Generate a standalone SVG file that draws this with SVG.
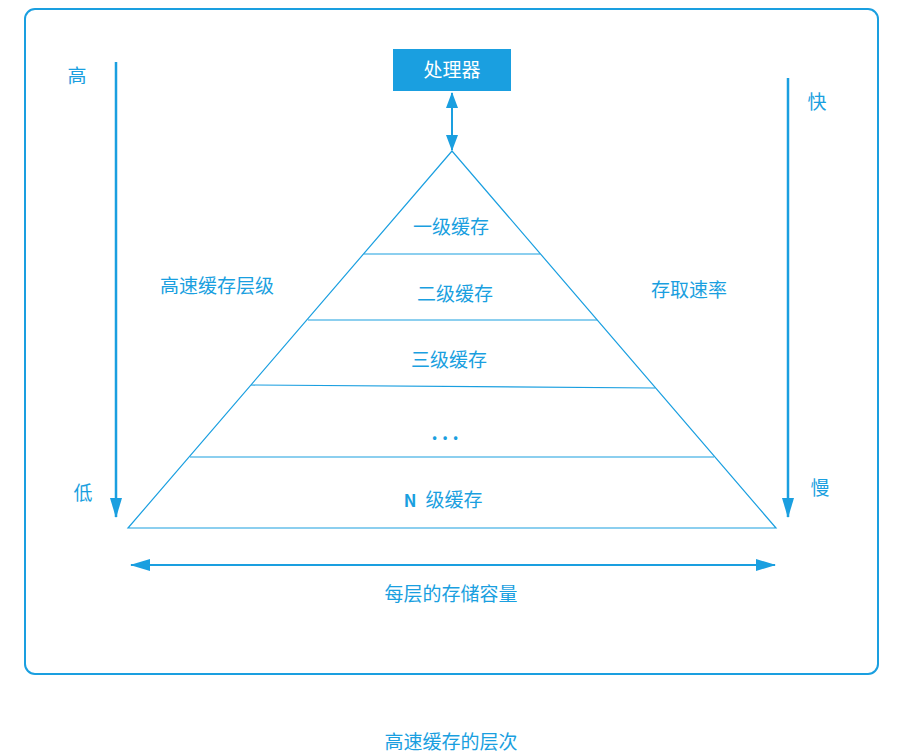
<svg xmlns="http://www.w3.org/2000/svg" width="905" height="754" viewBox="0 0 905 754">
  <style>
    .ln { stroke: #1a9fe0; fill: none; }
    .lbl { font-family: "Noto Sans CJK SC", "Liberation Sans", sans-serif; font-size: 19px; fill: #1a9fe0; text-anchor: middle; dominant-baseline: central; }
    .proc { font-family: "Noto Sans CJK SC", "Liberation Sans", sans-serif; font-size: 19px; fill: #ffffff; text-anchor: middle; dominant-baseline: central; }
    .small { font-size: 17px; font-weight: bold; }
  </style>
  <defs>
    <marker id="ah" viewBox="0 0 16 12" refX="15" refY="6" markerWidth="16" markerHeight="12" markerUnits="userSpaceOnUse" orient="auto-start-reverse">
      <path d="M0,0 L16,6 L0,12 Z" fill="#1a9fe0"/>
    </marker>
    <marker id="ahs" viewBox="0 0 20 12" refX="19" refY="6" markerWidth="20" markerHeight="12" markerUnits="userSpaceOnUse" orient="auto-start-reverse">
      <path d="M0,0 L20,6 L0,12 Z" fill="#1a9fe0"/>
    </marker>
  </defs>
  <rect width="905" height="754" fill="#ffffff"/>

  <!-- frame -->
  <rect x="25" y="9" width="853" height="665" rx="10" ry="10" class="ln" stroke-width="2"/>

  <!-- processor -->
  <g id="processor">
    <rect x="393" y="49" width="118" height="42" fill="#1a9fe0"/>
    <text x="452" y="68.5" class="proc">处理器</text>
  </g>

  <!-- pyramid of cache levels -->
  <g id="pyramid">
    <path d="M452,151 L128,528 L776,528 Z" class="ln" stroke-width="1.2"/>
    <line x1="364" y1="254" x2="540" y2="254" class="ln" stroke-width="1.2"/>
    <line x1="308" y1="320" x2="597" y2="320" class="ln" stroke-width="1.2"/>
    <line x1="251" y1="385" x2="655" y2="388" class="ln" stroke-width="1.2"/>
    <line x1="190" y1="457" x2="714" y2="457" class="ln" stroke-width="1.2"/>
  </g>
  <g id="l1"><text x="451" y="225" class="lbl">一级缓存</text></g>
  <g id="l2"><text x="455" y="292" class="lbl">二级缓存</text></g>
  <g id="l3"><text x="449" y="358" class="lbl">三级缓存</text></g>
  <g id="ln-dots"><text x="445" y="431" class="lbl" font-weight="bold">. . .</text></g>
  <g id="ln">
    <text x="410" y="499" class="lbl small">N</text>
    <text x="454" y="498" class="lbl">级缓存</text>
  </g>

  <!-- side labels -->
  <g id="hierarchy">
    <text x="77" y="74" class="lbl">高</text>
    <text x="83" y="491" class="lbl">低</text>
    <text x="217" y="284" class="lbl">高速缓存层级</text>
  </g>
  <g id="speed">
    <text x="817" y="100" class="lbl">快</text>
    <text x="820" y="486" class="lbl">慢</text>
    <text x="689" y="288" class="lbl">存取速率</text>
  </g>
  <g id="capacity">
    <text x="451" y="592" class="lbl">每层的存储容量</text>
  </g>

  <!-- connectors -->
  <g id="connectors">
    <line x1="452" y1="93" x2="452" y2="150" class="ln" stroke-width="2" marker-start="url(#ah)" marker-end="url(#ah)"/>
    <line x1="116" y1="62" x2="116" y2="517" class="ln" stroke-width="2.5" marker-end="url(#ahs)"/>
    <line x1="788" y1="78" x2="788" y2="517" class="ln" stroke-width="2.5" marker-end="url(#ahs)"/>
    <line x1="131" y1="565" x2="775" y2="565" class="ln" stroke-width="2" marker-start="url(#ahs)" marker-end="url(#ahs)"/>
  </g>

  <!-- caption -->
  <text x="451" y="740" class="lbl">高速缓存的层次</text>
</svg>
